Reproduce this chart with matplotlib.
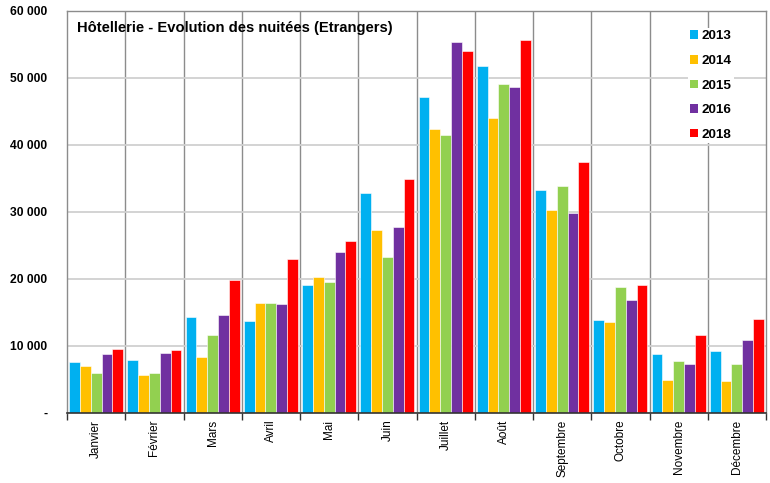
import matplotlib
matplotlib.use("Agg")
import matplotlib.pyplot as plt
import numpy as np
from matplotlib.patches import Patch
from matplotlib.ticker import FixedLocator, FuncFormatter

plt.rcParams['font.family'] = ['Liberation Sans', 'DejaVu Sans']

months = ["Janvier", "Février", "Mars", "Avril", "Mai", "Juin", "Juillet",
          "Août", "Septembre", "Octobre", "Novembre", "Décembre"]
years = ["2013", "2014", "2015", "2016", "2018"]
v2013 = [7600, 7900, 14240, 13730, 19060, 32750, 47120, 51790, 33240, 13880, 8720, 9210]
v2014 = [6900, 5560, 8360, 16370, 20200, 27200, 42340, 43940, 30250, 13540, 4880, 4690]
v2015 = [5960, 5900, 11550, 16370, 19500, 23240, 41430, 49100, 33790, 18760, 7720, 7220]
v2016 = [8790, 8930, 14540, 16220, 24030, 27720, 55280, 48570, 29760, 16870, 7220, 10850]
v2018 = [9530, 9380, 19760, 22900, 25630, 34880, 53940, 55630, 37420, 19060, 11550, 14030]
series = [v2013, v2014, v2015, v2016, v2018]
colors = ["#00B0F0", "#FFC000", "#92D050", "#7030A0", "#FF0000"]
title = "Hôtellerie - Evolution des nuitées (Etrangers)"

fig = plt.figure(figsize=(7.7, 4.83), dpi=100)
ax = fig.add_axes([67/770, 1-412.7/483, (766-67)/770, (412.7-10.7)/483])

x = np.arange(len(months))
bw = 0.186
for i, (vals, c) in enumerate(zip(series, colors)):
    ax.bar(x + (i - 2) * bw, vals, width=bw, color=c, edgecolor="white",
           linewidth=0.4, zorder=3, label=years[i])

ax.set_xlim(-0.5, len(months) - 0.5)
ax.set_ylim(0, 60000)

# gridlines
ax.yaxis.set_major_locator(FixedLocator(np.arange(0, 60001, 10000)))
ax.yaxis.grid(True, color="#D0D0D0", linewidth=1.3, zorder=0)
for b in np.arange(0.5, len(months) - 0.5, 1):
    ax.axvline(b, color="#8C8C8C", linewidth=1.0, zorder=1)

ax.yaxis.set_major_formatter(FuncFormatter(
    lambda v, p: "-" if v == 0 else f"{int(v):,}".replace(",", " ")))
ax.tick_params(axis="y", length=0, pad=14, labelsize=8.7)
for lab in ax.get_yticklabels():
    lab.set_fontweight("bold")

ax.set_xticks(x)
ax.set_xticklabels(months, rotation=90, fontsize=8.5, va="top")
ax.xaxis.set_minor_locator(FixedLocator(np.arange(-0.5, len(months), 1)))
ax.tick_params(axis="x", which="major", length=0, pad=5)
ax.tick_params(axis="x", which="minor", length=5, width=1, color="#333333")

for s in ["left", "top", "right"]:
    ax.spines[s].set_color("#8C8C8C")
    ax.spines[s].set_linewidth(1.0)
ax.spines["bottom"].set_color("#333333")
ax.spines["bottom"].set_linewidth(1.2)
ax.spines["bottom"].set_zorder(5)

ax.text(10/699, 1 - 17/402, title, transform=ax.transAxes, fontsize=10.6,
        fontweight="bold", va="center", ha="left", zorder=6)

handles = [Patch(facecolor=c, edgecolor="none") for c in colors]
leg = ax.legend(handles, years, loc="upper left",
                bbox_to_anchor=((681-67)/699, 1 - 11/402),
                frameon=True, fancybox=False, framealpha=1, facecolor="white",
                edgecolor="none", handlelength=0.6, handleheight=0.6,
                handletextpad=0.3, labelspacing=0.93, borderpad=0.15,
                prop={"weight": "bold", "size": 9.7})
leg.set_zorder(7)

fig.savefig("out.png", dpi=100)
